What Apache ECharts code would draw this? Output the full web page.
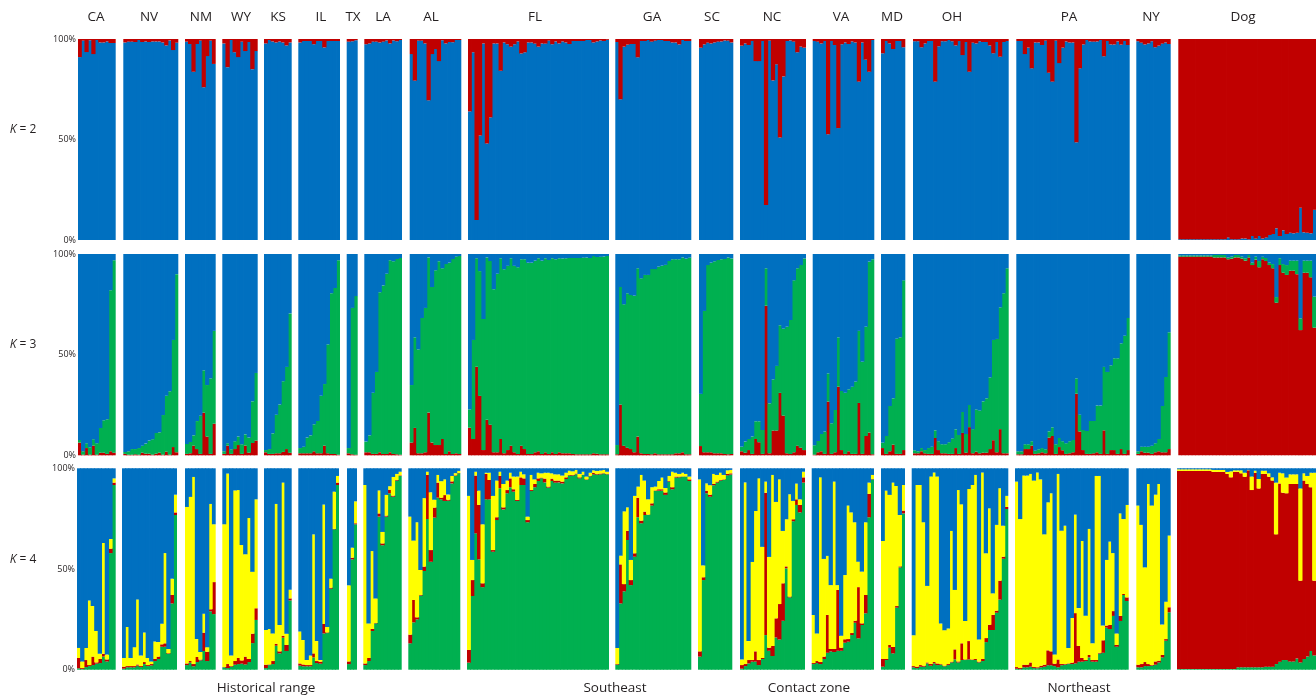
<!DOCTYPE html>
<html>
<head>
<meta charset="utf-8">
<style>html,body{margin:0;padding:0;background:#fff}#c{width:1316px;height:698px}</style>
<script src="https://cdn.jsdelivr.net/npm/echarts@6/dist/echarts.min.js"></script>
</head>
<body>
<div id="c"></div>
<script>
const states = ['CA','NV','NM','WY','KS','IL','TX','LA','AL','FL','GA','SC','NC','VA','MD','OH','PA','NY','Dog'];
const regions = ['Historical range','Southeast','Contact zone','Northeast'];
const yTicks = [0,50,100];

// K = 2: red share, drawn above the blue remainder
const k2Red = [
[9,.8,6.5,.6,7.5,.5,1.7,1.7,1.2,2,2],
[1.7,1.3,1.3,1.5,.5,1.5,1.2,1.5,1.2,1.2,1.2,1.7,3.2,.7,5.5,1.8],
[1.3,2.5,16.3,2.5,.8,24,8.5,.8,12.4],
[2.2,14,.5,6.6,9,1.3,6,1.5,15,6],
[2.2,.5,1.2,1.7,1.2,1.7,3.2,1.7],
[1.7,1,1,1,2.6,1,1,4.2,1,1,1,1],
[1.3,1.1,.6],
[2.6,2.2,1.3,1.3,1.7,1.3,.7,2.2,.7,1.1,.5],
[7.5,20.7,.8,.8,2.2,30.5,7.5,5,11,.6,2.2,1.5,1.6,.5,.5],
[36,6.6,90,48,2.2,52,39,2.2,2.2,15.8,1.7,2.6,3.8,2.6,1.2,7.2,6.6,1.7,1.7,2.3,3.8,2.2,2.3,.8,2.6,1.2,2.2,1.2,1.7,2.5,1,1,1,1,.5,.5,1.7,1.2,.7,1,.4],
[1.5,30,3.8,2.8,2.5,2.5,9.1,1,1,.5,1.3,.8,.5,.5,1,1,1.7,1.7,2.7,.5,1,1],
[4.3,2.7,1.8,2.2,1.7,1.3,1.2,.7,.8,1.7],
[3.3,2.2,3,1,11,11,1,82.6,.8,20.6,12.6,49,18.6,1,.7,1.3,6.6,3.8,4.3],
[1,1.3,2.2,1,47.4,1,3,44.3,2.6,1.7,2.5,1.2,1.7,21.2,1.7,10.3,16.3,.5],
[7.1,1,2.2,5,1,1,4.1],
[1.1,1.1,4.1,2.2,1,1,21.2,3.6,1.1,1.1,.5,1.1,3.2,1,8,1.5,16.3,1.8,2.2,1.1,1.5,1.5,3.2,7.1,1.5,8.8,1.5,1],
[1,1,7.5,4.3,14.6,1.7,1.7,3,.8,16.8,21.2,.8,12,4.3,1.2,1.7,1.7,51.4,14.6,2.7,.5,1.2,1.3,1.2,.5,8.6,1,2.7,2.7,1.2,2.8,1,3],
[1.1,1.8,2.7,2.2,1.1,4.1,3.3,2.3,1.7,2.5],
[99.6,99.6,99.6,99.6,99.6,99.6,99.6,99.6,99.6,99.6,99.6,99.6,99.6,99.6,98.7,99.6,99.6,99.6,99.3,99.3,99.6,98,99.2,98,99.3,98.7,97.5,97,94.2,98,95.2,97,96.4,96.7,96.4,84,96.2,96.4,96.7,85]
];

// K = 3: cumulative tops, red from the bottom, then green; blue fills to 100
const k3RedTop = [
[6.3,.3,3.6,.3,4.8,.3,1.3,1.3,.7,2,1.3],
[.7,.3,.3,.5,.3,1.3,.8,.8,.3,.8,1.3,.3,1.8,.3,4.1,1.5],
[.7,1,4.8,3.1,.7,21.2,9.3,.7,15.7],
[.7,4.8,.7,3.1,5.1,.7,4.8,1.3,6.1,7.3],
[1.5,.7,.7,1,1,1.7,3.1,1.3],
[1,1,1,1,2,1,1,4.8,1,.7,.7,.3],
[1,.5,.3],
[1.5,1.5,.7,.7,1.5,.7,.7,1.5,.7,.5,.3],
[6.3,13.6,1,1,1.5,21.2,6.3,5.1,5.1,8.1,.7,2,.7,1,.7],
[13.7,8.1,44,29.5,2.6,17.6,15.2,1.5,1.5,8.1,1,2.6,4.8,1.5,.7,4.8,3.1,.7,.7,1.5,2,.7,1.5,.7,1.5,.7,1.5,1,1,1,.7,.5,.5,.5,.5,.5,1,.8,.5,.5,.5],
[.5,25.2,4.8,3.8,3.1,1.5,9.3,1,.7,.7,.5,1,.5,.5,.5,.5,.5,1,1,1.5,.5,.5],
[4.6,1.5,1.5,1.5,1,1,1,.7,.5,.7],
[2,1.3,2.6,.7,8.1,6.5,.7,74.3,1,12.3,12.3,31,19.7,1,.7,1.5,4.8,3.8,2.6],
[.3,1.5,2,.7,26.7,.7,1.5,34.1,2.6,.7,2,.7,.7,26,.7,9.6,11.3,.5],
[3.6,.7,2,5.3,.7,.7,2.6],
[1,1,2,1,.7,.7,8.6,2.6,1,1,.7,.7,3.6,.7,11.1,1.3,14,1,1.8,1,1.3,1.3,3.1,7.5,1.5,13,1,1],
[.5,.5,3.1,3.1,4.8,.7,1,1.5,1,8.8,9.6,.7,4.1,2.5,.7,1,1.5,30.6,11.8,2.6,.7,.7,1,1.5,.7,12.4,.7,2.6,2.6,.7,3.1,.7,2.6],
[.7,2,1.3,1.3,.7,1.5,2,1.5,1.5,3.1],
[98.7,98.7,98.7,98.7,98.7,98.7,98.7,98.7,98.7,98.7,98.3,98.3,98.3,98.3,97.4,97.7,98.3,98.3,97.7,96.7,98.2,94.5,97.2,93.4,97.4,96.5,94.5,92.9,75.8,94.5,90.7,89.6,91.7,91.7,90,62.2,90.7,90.7,88.4,63.4]
];
const k3GreenTop = [
[7.6,2,6,4,8,6,13.6,17.4,17.9,82,96.9],
[1.7,2,3.1,3.1,3.6,4.8,5.8,7.3,8,11.1,11.4,20,29.6,31.8,57.3,90],
[5.6,6.6,9.9,17,19.7,42.2,34.9,38.2,61.8],
[2,6,3,7,9.3,5.5,10.4,8.8,26.8,40.9],
[2.6,3.1,10.9,20.2,25.2,36.8,43.9,70.5],
[3.6,4.3,8.8,9.9,15.4,17.1,29.6,35.4,55.1,80.5,83.1,96.9],
[3.6,73.2,79.1],
[6.8,9.9,31.1,41.4,81,84.4,90.2,96.9,96.4,97.5,98],
[34.9,58.6,52.6,68.2,73.2,98.3,83.6,91.9,96.4,92.9,95,95.7,97.5,98.7,99],
[22.8,57.3,97.9,91.5,67.7,98.3,96.5,82.5,90.2,97.9,92.4,94.1,97.9,94.1,93.4,97.4,97.4,95.7,95.7,96.7,97.9,96.7,97.9,97,97.9,97.4,97.9,97.8,97.9,98,98,98,98,98.2,98.3,98,99,98.5,98.6,98.8,99],
[5.1,83.6,75,80.5,79.6,79.3,92.9,87.9,89.6,89.6,92.5,92.5,93.7,94.2,94.6,96.5,97.4,97.4,97.4,98.3,97.7,98.2],
[30.5,71.7,94.5,95.7,96.4,97,97.4,97.5,98.3,97.8],
[4.3,6.8,8.1,9.3,16.9,16.9,12.6,92.9,25.8,37.7,44.4,64.6,62.9,63.9,67.2,86.9,92.9,94.5,97.8],
[5,7.1,10.6,11.8,40.7,15.9,22.5,58.6,32,31.1,32.8,34.1,36.6,61.8,46.5,63.9,96.2,97.4],
[6.3,9.6,24.5,28.3,57.9,58.6,86.9],
[2.5,2,3.6,2.6,3.6,4.3,12.4,7,5.5,5.5,6.5,8.4,12.9,10.1,21.5,10.6,25,13,22.8,22.3,26.8,28.3,38.7,57.3,57.8,73.5,80.5,92.9],
[2,2,5.5,5.5,7,2.3,3,3.6,3,11.9,13.9,5.5,8.6,7,6,7,7.6,38.2,20.2,12.6,12.1,17.1,17.1,24.7,24.7,43.9,41.4,44.7,48.2,48.2,55.6,59.4,68.2],
[2,4.3,4.3,4.3,4.8,6,8.1,24.5,38.9,61.1],
[99.3,99.3,99.3,99.3,99.3,99.3,99.3,99.3,99.3,99.3,99.5,99.5,99.5,99.5,98.3,98.7,99.5,99.5,98.7,97.9,99.5,95.7,98.7,96.5,98.6,98,95.7,95,78.6,97.9,95,94.5,96.7,96.7,96.7,68,96.7,96.7,96.7,78.8]
];

// K = 4: cumulative tops, green from the bottom, then red, then yellow; blue fills to 100
const k4GreenTop = [
[.7,.3,1.3,1.8,2.3,3,3.3,6.5,4.1,57.9,91.7],
[.5,1.2,1.2,1.2,2,1.3,2.8,1.8,2.1,4.3,5.3,11.4,11.4,7.9,32.9,76.8],
[2.3,3.5,1.7,3.8,4.6,9.3,4.3,29,27.6],
[1.2,.8,1.5,2.5,2.8,3,2.6,3.8,13.2,24.7],
[.8,2.3,2.8,11.9,8.1,15.9,9.3,34.4],
[2,1.7,1.7,1.7,6.1,3.3,3,18,18.2,40.2,69.7,91.7],
[2.8,54.8,72.2],
[2.3,4.3,19.2,23,76,61.8,76,87.6,85.9,93.9,96.2],
[13.1,23.5,25,36.8,49,74.8,53.6,75.5,85.4,84.6,83.8,83.9,92.5,96.2,97.5],
[3.5,36.6,67.7,54.8,41,84.6,84.6,58.6,74.3,90.1,79.6,87.6,90.6,88.4,83.8,91.7,91.7,73.2,88.7,90.6,93.7,95,93,90.4,93.7,92.9,93,92.5,94.7,96.4,96.4,97,95,96.7,94.2,96,97,96.9,97,97.4,97],
[2.5,32.9,38.9,64.4,42,56.1,75.7,72.7,76.8,76.8,81.5,88.7,88.9,88.9,86.8,93.4,89.6,95.4,95.5,95.9,95.9,93.7],
[6.5,44.5,87.6,85.9,91.6,92.9,93.9,94.2,96.5,96.9],
[.5,1.8,3.1,4,4,2.3,5.3,17.2,9.4,6.8,16,15,24.3,50.3,35.9,73.7,81.8,78.1,92.9],
[2.8,3.3,2.8,5.3,8.4,9.1,8.8,9.4,9.4,13.4,13.9,17.2,23.3,15.6,22.2,28,75.7,94.5],
[1.5,4.8,10.9,8.1,30.8,50.8,77.6],
[1.2,.8,1.5,1.5,3.1,2,3.1,2.3,2.5,1.7,2.3,3.6,5.1,3.6,4.8,4.8,5.1,4.8,4.8,3.6,4.3,13.7,19.7,19.7,28.3,34.8,55.1,79.8],
[.5,.3,1.2,1.2,1.5,.8,.7,1.2,1.5,2.2,2.2,1.8,1.2,2.2,2.5,2.8,2.8,3.1,4,4,4.3,6.1,4,4,8,8.4,20.9,20.2,26.7,11.4,24.2,37.1,34.1],
[1.2,1.2,1.8,1.8,2,2.5,3.6,6.1,14.4,28.5],
[.3,.3,.3,.3,.3,.3,.3,.3,.3,.3,.3,.3,.3,.3,.3,.3,.3,1.2,1.2,1.2,1.2,1.2,1.2,1.2,1.2,1.5,1.5,1.5,2.8,4,4.8,4.8,4.1,4.1,5.5,3.6,5.3,6.5,9.3,7.1]
];
const k4RedTop = [
[5.8,.8,4.8,2.3,6.5,3.6,5.3,7.9,5.1,60.1,92.9],
[1.5,1.8,1.8,1.8,2.6,1.8,3.8,2.3,2.8,5.3,6.5,12.6,13.1,8.2,37.1,78.1],
[3.1,4.3,2.8,6.3,5,18.4,8.9,30,43.5],
[1.3,2.8,1.8,4.3,5.8,4.6,6.5,5.3,17.9,30.5],
[2.5,2.6,4.3,12.9,9.1,16.9,12.3,35.4],
[3.1,2.6,2.3,2.3,8.1,4.3,4,22.7,18.5,40.7,69.9,92.9],
[4.1,55.6,72.7],
[3.1,5.8,20.2,23.2,77.6,62.7,76.5,89.4,86.4,94.2,96.5],
[17.4,34.6,26,37.1,51.2,96.7,59.4,80.5,92.9,85.4,86.7,84.4,93.5,96.5,97.7],
[9.8,44.5,96.4,81.8,42.9,97.2,94.2,59.4,75.7,96.2,80.6,89.2,95,89.6,84.3,95.5,95,74.3,89.2,92.2,95,95.4,94.9,90.9,94.9,93.9,93.9,93.4,95.5,96.7,96.7,97.4,95.5,96.9,94.5,96.3,97.8,97.2,97.4,97.6,97.2],
[2.8,52.3,42.5,68.9,44.5,57.8,85.4,74,78.5,77,82.6,89,89.6,89.6,88,93.7,90.6,95.9,95.9,96,96,94.5],
[9.1,45.9,88.9,86.9,92.2,93.4,94.2,94.5,97.2,97.5],
[2.3,2.8,4.8,4.8,9.1,4.8,5.8,87.9,10.9,11.8,25.5,32.6,42.9,51.3,36.3,74.7,84.6,81.8,95.5],
[3.3,4.3,3.8,6.5,27.2,10.3,10.3,39.6,10.9,15.1,15.2,18.2,24.3,41,23,37.1,87.3,94.7],
[5.3,5.3,12.3,11.3,31.6,51.3,79],
[1.8,1.5,2.3,2,3.6,2.8,3.8,3.1,2.8,2,2.8,4,10.1,4.1,13.1,5.1,14.2,5.1,5.3,4,5.3,15.7,22.3,27.2,29.3,44.2,56.1,80.8],
[1.3,.8,2.5,2.5,3.6,1.3,1.2,2,2.5,9.6,9.1,3,5.1,2.8,2.8,3.1,3.5,28.1,11.8,5.8,4.8,7.3,4.8,4.8,8.4,14.6,21.9,22.2,29.1,12.3,26.7,37.6,35.9],
[2.5,2.8,3.8,2.8,2.3,4.1,4.5,7.3,15.2,31],
[98.7,98.7,98.7,98.7,98.7,98.7,98.7,98.7,98.7,98.7,98.2,98.2,98.2,98.2,97.2,95.5,98.2,98.2,97.5,95.8,99,89.2,97.8,90,97.2,97.2,95.8,93.9,67.2,92.5,87.9,87.6,92.2,92.2,92.2,44.2,93.9,92.2,90.6,44.2]
];
const k4YellowTop = [
[10.8,4.1,10.8,34.4,31.6,19.2,7.9,62.9,7.5,64.9,95],
[5.8,21.2,5.8,11.2,34.9,7,18.5,5.8,4.1,14,13.8,22.8,57.9,10.3,45.2,86.9],
[80.8,85.8,95.7,15.2,8.8,27.8,11.2,82.3,72.2],
[72.2,97.4,7,89,89.2,61.9,57.3,75.3,48.6,84.6],
[19.7,20.2,18,82.3,22.2,92.9,17.9,39.7],
[19,14.7,4.8,7.1,67.2,14.2,4.8,82,21.2,45.2,88.4,96.2],
[41.9,60.6,83.6],
[91.7,23,58.9,35.4,89,68.4,86.8,91.1,95.7,97.2,98.3],
[76,64.1,73.2,49.5,85.2,98.3,88.1,84.4,96.7,93.6,94.5,87,96.2,97.6,98.7],
[86.3,54.5,98.3,88.9,72.2,97.8,97.8,86.3,93.9,98.3,92.2,93.9,97.8,95.9,95.9,98.3,97,76,96.7,94.5,97.8,97.5,97.8,97.8,97.5,97,97,96.4,97.8,98.8,98.5,99.2,97.2,98.3,95.9,97.8,99,98.7,98.9,99.2,98.3],
[10.8,56.6,78.6,80.6,54.5,86.3,90.9,96.7,93.9,84.6,90.6,90.9,93.7,95.4,90.2,96.2,98.3,97.8,97.2,97.8,97.2,95.9],
[94.5,51.8,92.5,91.6,97.2,96.7,97.8,96.7,99,99.2],
[5.1,93,14.2,53.5,78.8,95,61,93.4,56,96.7,83.3,94.5,68.9,74.7,87.1,83.8,92.4,84.6,98.3],
[27.2,18,95.5,55,56.5,42,93.4,42,16.9,47,81.5,78.1,73.2,53.6,48.7,73.2,92.9,96.7],
[63.9,88.9,86.8,92.9,91.2,76.8,91.7],
[17.1,91.7,91.7,73.2,41.6,95.9,97.9,95.9,22.9,19.6,20.4,68.9,39.6,89.2,82.1,24.2,89.7,91.7,96.7,15,97.9,57.8,80.1,37.9,71.9,90.1,71.5,86.3],
[93.4,74.8,96.4,96.4,97.2,93.9,97.9,94.5,67.2,83.1,87.6,7.6,97.2,69,71.5,10.8,25.7,77,30.6,63.9,26.8,69.9,13.1,96.2,96.2,21.9,54.5,63.6,57.9,18,77.6,74.8,81.8],
[81.5,71.9,50.8,92.2,81.5,86.9,92.2,22.4,33.8,66.6],
[99.5,99.5,99.5,99.5,99.5,99.5,99.5,99.5,99.5,99.5,99.2,99.2,99.2,99.2,98.2,98.5,99,99,99,97.8,99.2,95.9,98.8,94.7,98.8,98.8,97.5,95.5,92.9,97.8,97.5,95.4,97,97,97,90,97.5,96.2,97.8,97.8]
];

// layout
const panelLeft  = [78,123.3,185,222.3,264,298.3,346.7,364.3,409.7,468,615.3,699,740,812.7,881,913,1016.3,1136.3,1178.3];
const panelRight = [115.7,178.3,215.7,257.7,291.7,340,357.7,402,461.3,609,691.3,733.3,806,874.3,905.3,1008.7,1129.7,1170.7,1316];
const panelLeftK4  = [77,122,185,222.3,264,298.3,347,363.3,408.3,467,615.3,698,740,811.7,881,911.7,1015,1136.3,1177];
const panelRightK4 = [115.7,177,215.7,257.7,291.7,339,357,401.7,460.3,609,691.3,732.3,805,874,905,1008.3,1128.7,1170.7,1316];
const stateLabelX = [96,149,201,241,278,321,353,383,431,535,652,712,772,841,892,952,1069,1151,1243];
const regionLabelX = [266,615,809,1079];
const rowTop = [39,254,468.3];
const rowHeight = [201,201.3,201.4];
const kLabels = ['2','3','4'];
const kLabelY = [130,345,560];
const BLUE='#0070c0', RED='#c00000', GREEN='#00b050', YELLOW='#ffff00';
const FONT='"Open Sans", "Noto Sans", sans-serif', TEXT='#231f20';

const diff = (hi, lo) => hi.map((v, i) => Math.max(0, v - (lo ? lo[i] : 0)));
const rest = (top) => top.map(v => Math.max(0, 100 - v));

function rowSeries(row, p) {
  if (row === 0) return [[rest(k2Red[p]), BLUE], [k2Red[p], RED]];
  if (row === 1) return [
    [k3RedTop[p], RED],
    [diff(k3GreenTop[p], k3RedTop[p]), GREEN],
    [rest(k3GreenTop[p]), BLUE]
  ];
  return [
    [k4GreenTop[p], GREEN],
    [diff(k4RedTop[p], k4GreenTop[p]), RED],
    [diff(k4YellowTop[p], k4RedTop[p]), YELLOW],
    [rest(k4YellowTop[p]), BLUE]
  ];
}

const grid = [], xAxis = [], yAxis = [], series = [];
rowTop.forEach((top, r) => {
  const L = r === 2 ? panelLeftK4 : panelLeft, R = r === 2 ? panelRightK4 : panelRight;
  states.forEach((st, p) => {
    const idx = grid.length;
    grid.push({left: L[p], width: R[p] - L[p], top, height: rowHeight[r], containLabel: false});
    const parts = rowSeries(r, p);
    const n = parts[0][0].length;
    xAxis.push({type: 'category', gridIndex: idx, show: false, data: parts[0][0].map((_, i) => i), boundaryGap: true});
    yAxis.push({
      type: 'value', gridIndex: idx, min: yTicks[0], max: yTicks[2], interval: 50, show: p === 0,
      axisLine: {show: false}, axisTick: {show: false}, splitLine: {show: false},
      axisLabel: {formatter: '{value}%', fontSize: 9, color: TEXT, fontFamily: FONT, margin: 2}
    });
    parts.forEach(([data, color]) => series.push({
      type: 'bar', xAxisIndex: idx, yAxisIndex: idx, stack: 'g' + idx, data,
      barWidth: (R[p] - L[p]) / n + 0.8, silent: true, animation: false,
      itemStyle: {color}
    }));
  });
});

const text = (x, y, t, size, extra) => ({type: 'text', x, y, silent: true, style: Object.assign({
  text: t, fontSize: size, fontFamily: FONT, fill: TEXT, align: 'center', verticalAlign: 'middle'}, extra || {})});
const graphics = [];
states.forEach((s, i) => graphics.push(text(stateLabelX[i], 17, s, 13.5)));
regions.forEach((s, i) => graphics.push(text(regionLabelX[i], 688, s, 13.5)));
kLabels.forEach((k, i) => graphics.push(text(23, kLabelY[i], '{i|K} = ' + k, 12, {
  rich: {i: {fontStyle: 'italic', fontSize: 12, fontFamily: FONT, fill: TEXT}}
})));

const chart = echarts.init(document.getElementById('c'), null, {renderer: 'canvas'});
chart.setOption({animation: false, backgroundColor: '#fff', grid, xAxis, yAxis, series, graphic: graphics});
</script>
</body>
</html>
